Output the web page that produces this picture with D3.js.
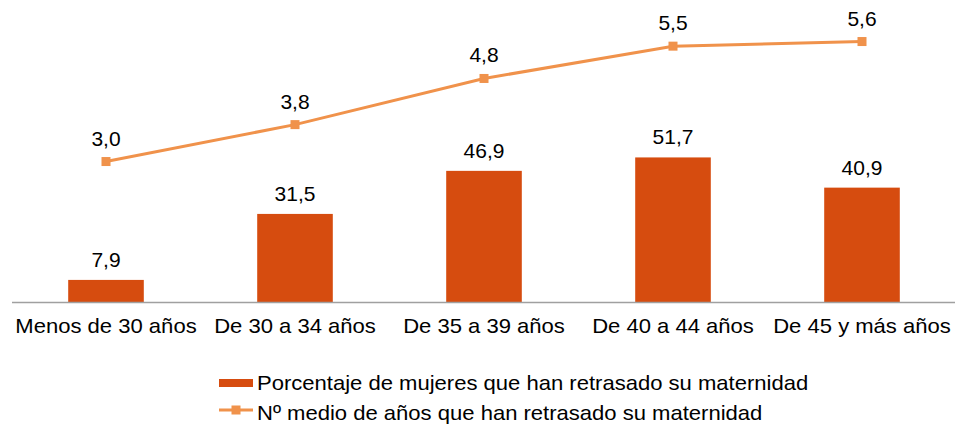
<!DOCTYPE html>
<html>
<head>
<meta charset="utf-8">
<script src="https://cdn.jsdelivr.net/npm/d3@7"></script>
<style>
  body { margin: 0; background: #fff; }
  text { font-family: "Liberation Sans", Arial, sans-serif; fill: #000; }
</style>
</head>
<body>
<script>
var categories = ["Menos de 30 años", "De 30 a 34 años", "De 35 a 39 años", "De 40 a 44 años", "De 45 y más años"];
var porcentaje = [7.9, 31.5, 46.9, 51.7, 40.9];
var aniosMedio = [3.0, 3.8, 4.8, 5.5, 5.6];
var seriesNames = ["Porcentaje de mujeres que han retrasado su maternidad",
                   "Nº medio de años que han retrasado su maternidad"];

var width = 955;
var height = 425;
var barColor = "#d64c0f";
var lineColor = "#f0924b";
var stretch = 1.05;   // the original text looks a bit wide

var fmt = function(v) { return d3.format(".1f")(v).replace(".", ","); };

var svg = d3.select("body")
    .append("svg")
    .attr("width", width)
    .attr("height", height);

// scales
var x = d3.scaleBand()
    .domain(categories)
    .range([11.5, 956.5])
    .paddingInner(0.6)
    .paddingOuter(0.3);

var xc = function(d) { return x(d) + x.bandwidth() / 2; };

var y = d3.scaleLinear().domain([0, 108]).range([302, 0]);
var y2 = d3.scaleLinear().domain([0, 6.5]).range([300, 0]);

// bars
svg.selectAll("rect.bar")
    .data(porcentaje)
    .enter()
    .append("rect")
    .attr("class", "bar")
    .attr("x", function(d, i) { return x(categories[i]); })
    .attr("width", x.bandwidth())
    .attr("y", function(d) { return y(d); })
    .attr("height", function(d) { return y(0) - y(d); })
    .attr("fill", barColor);

svg.selectAll("text.barlab")
    .data(porcentaje)
    .enter()
    .append("text")
    .attr("class", "barlab")
    .attr("transform", function(d, i) {
        return "translate(" + xc(categories[i]) + "," + (y(d) - 13) + ") scale(" + stretch + ",1)";
    })
    .attr("text-anchor", "middle")
    .style("font-size", "20px")
    .text(fmt);

// x axis
var xAxis = svg.append("g")
    .attr("transform", "translate(0," + y(0) + ")")
    .call(d3.axisBottom(x).tickSize(0).tickPadding(16));
xAxis.select(".domain").attr("stroke", "#a0a0a0").attr("stroke-width", 1.3);
xAxis.selectAll("text")
    .style("font-size", "21px")
    .attr("font-family", null)
    .attr("transform", "scale(" + stretch + ",1)");

// line
var line = d3.line()
    .x(function(d, i) { return xc(categories[i]); })
    .y(function(d) { return y2(d); });

svg.append("path")
    .datum(aniosMedio)
    .attr("d", line)
    .attr("fill", "none")
    .attr("stroke", lineColor)
    .attr("stroke-width", 3);

svg.selectAll("rect.mark")
    .data(aniosMedio)
    .enter()
    .append("rect")
    .attr("class", "mark")
    .attr("x", function(d, i) { return xc(categories[i]) - 4.5; })
    .attr("y", function(d) { return y2(d) - 4.5; })
    .attr("width", 9)
    .attr("height", 9)
    .attr("fill", lineColor);

svg.selectAll("text.linelab")
    .data(aniosMedio)
    .enter()
    .append("text")
    .attr("class", "linelab")
    .attr("transform", function(d, i) {
        return "translate(" + xc(categories[i]) + "," + (y2(d) - 16) + ") scale(" + stretch + ",1)";
    })
    .attr("text-anchor", "middle")
    .style("font-size", "20px")
    .text(fmt);

// legend
var leg = svg.append("g").attr("transform", "translate(219,0)");
leg.append("rect")
    .attr("x", 0).attr("y", 379)
    .attr("width", 34).attr("height", 8)
    .attr("fill", barColor);
leg.append("text")
    .attr("transform", "translate(38,390) scale(" + stretch + ",1)")
    .style("font-size", "21px")
    .text(seriesNames[0]);

leg.append("line")
    .attr("x1", 0).attr("x2", 34)
    .attr("y1", 410).attr("y2", 410)
    .attr("stroke", lineColor).attr("stroke-width", 3);
leg.append("rect")
    .attr("x", 12.5).attr("y", 405.5)
    .attr("width", 9).attr("height", 9)
    .attr("fill", lineColor);
leg.append("text")
    .attr("transform", "translate(38,420) scale(" + stretch + ",1)")
    .style("font-size", "21px")
    .text(seriesNames[1]);
</script>
</body>
</html>
